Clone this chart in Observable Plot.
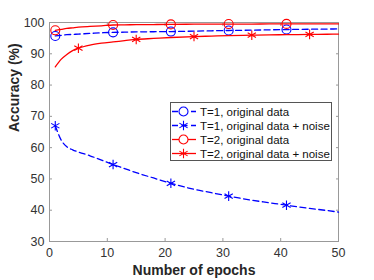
<!DOCTYPE html>
<html><head><meta charset="utf-8">
<script src="https://cdn.jsdelivr.net/npm/d3@7"></script>
<script src="https://cdn.jsdelivr.net/npm/@observablehq/plot@0.6"></script>
<style>
body{margin:0;background:#fff;}
#wrap{position:relative;width:374px;height:280px;font-family:"Liberation Sans",Arial,sans-serif;}
#wrap > svg{position:absolute;left:0;top:0;}
#legend{position:absolute;left:170px;top:102px;width:162px;height:59px;border:1px solid #555;background:#fff;box-sizing:border-box;}
</style></head><body><div id="wrap"></div>
<script>
const epochs = [1,2,3,4,5,7,9,11,13,15,18,21,25,28,31,35,38,41,45,48,50];
const t1Original = [95.7,95.9,96.1,96.2,96.3,96.5,96.7,96.85,96.9,97.0,97.05,97.1,97.25,97.35,97.45,97.55,97.65,97.75,97.85,97.9,97.95];
const t1Noise = [67.0,62.5,60.3,59.3,58.6,57.4,56.0,54.6,53.3,52.0,50.3,48.6,46.7,45.6,44.5,43.2,42.4,41.6,40.6,39.9,39.4];
const t2Original = [97.5,97.8,98.1,98.3,98.5,98.75,98.95,99.2,99.25,99.3,99.35,99.4,99.45,99.45,99.5,99.5,99.55,99.55,99.55,99.55,99.55];
const t2Noise = [85.8,88.2,89.8,91.0,91.8,92.8,93.4,93.8,94.2,94.6,94.9,95.2,95.5,95.65,95.8,95.95,96.05,96.1,96.2,96.25,96.3];
const markerEpochsA = [1,11,21,31,41];
const markerEpochsB = [5,15,25,35,45];
const xTicks = [0,10,20,30,40,50];
const yTicks = [30,40,50,60,70,80,90,100];
const seriesNames = ["T=1, original data","T=1, original data + noise","T=2, original data","T=2, original data + noise"];
const xTitle = "Number of epochs";
const yTitle = "Accuracy (%)";

const series = [
  {name: seriesNames[0], values: t1Original, color: "#0000ff", dash: "6,3.5", symbol: "circle", markers: markerEpochsA},
  {name: seriesNames[1], values: t1Noise, color: "#0000ff", dash: "6,3.5", symbol: "asterisk", markers: markerEpochsA},
  {name: seriesNames[2], values: t2Original, color: "#ff0000", dash: null, symbol: "circle", markers: markerEpochsA},
  {name: seriesNames[3], values: t2Noise, color: "#ff0000", dash: null, symbol: "asterisk", markers: markerEpochsB}
];

const marks = [];
for (const s of series) {
  const rows = epochs.map((e, i) => ({epoch: e, acc: s.values[i]}));
  marks.push(Plot.line(rows, {x: "epoch", y: "acc", stroke: s.color, strokeWidth: 1.3, strokeDasharray: s.dash ?? undefined, curve: "monotone-x"}));
  marks.push(Plot.dot(rows.filter(d => s.markers.includes(d.epoch)), {x: "epoch", y: "acc", stroke: s.color, fill: "none", symbol: s.symbol, r: 4.5, strokeWidth: 1.1}));
}

const chart = Plot.plot({
  width: 374, height: 280,
  marginLeft: 49, marginRight: 36, marginTop: 22, marginBottom: 39,
  style: {fontFamily: '"Liberation Sans", Arial, sans-serif', fontSize: "12.5px", color: "#333", background: "#fff"},
  x: {domain: [0, 50]},
  y: {domain: [30, 100]},
  marks: [
    Plot.frame({stroke: "#999", strokeWidth: 1}),
    Plot.axisX(xTicks, {anchor: "bottom", tickSize: -3, tickPadding: 10, label: null, stroke: "#999"}),
    Plot.axisX(xTicks, {anchor: "top", tickSize: -3, tickFormat: () => "", label: null, stroke: "#999"}),
    Plot.axisY(yTicks, {anchor: "left", tickSize: -3, tickPadding: 8, label: null, stroke: "#999"}),
    Plot.axisY(yTicks, {anchor: "right", tickSize: -3, tickFormat: () => "", label: null, stroke: "#999"}),
    ...marks,
    Plot.text([xTitle], {frameAnchor: "bottom", dy: 33, fontWeight: "bold", fontSize: 14, fill: "#262626"}),
    Plot.text([yTitle], {frameAnchor: "left", dx: -35, rotate: -90, fontWeight: "bold", fontSize: 14, fill: "#262626"})
  ]
});
const wrap = document.getElementById("wrap");
wrap.appendChild(chart);

// legend
const leg = document.createElement("div");
leg.id = "legend";
wrap.appendChild(leg);
const lsvg = d3.select(leg).append("svg").attr("width", 160).attr("height", 57);
series.forEach((s, i) => {
  const y = 8.5 + i * 14;
  const g = lsvg.append("g");
  g.append("line").attr("x1", 1).attr("x2", 25).attr("y1", y).attr("y2", y)
    .attr("stroke", s.color).attr("stroke-width", 1.3).attr("stroke-dasharray", s.dash);
  const sym = s.symbol === "circle" ? d3.symbolCircle : d3.symbolAsterisk;
  g.append("path").attr("d", d3.symbol(sym, Math.PI * 4.5 * 4.5)()).attr("transform", `translate(12.5,${y})`)
    .attr("fill", s.symbol === "circle" ? "#fff" : "none").attr("stroke", s.color).attr("stroke-width", 1.1);
  g.append("text").attr("x", 29).attr("y", y).attr("dy", "0.35em").attr("font-size", 11.5)
    .attr("font-family", '"Liberation Sans", Arial, sans-serif').attr("fill", "#111").text(s.name);
});
</script>
</body></html>
